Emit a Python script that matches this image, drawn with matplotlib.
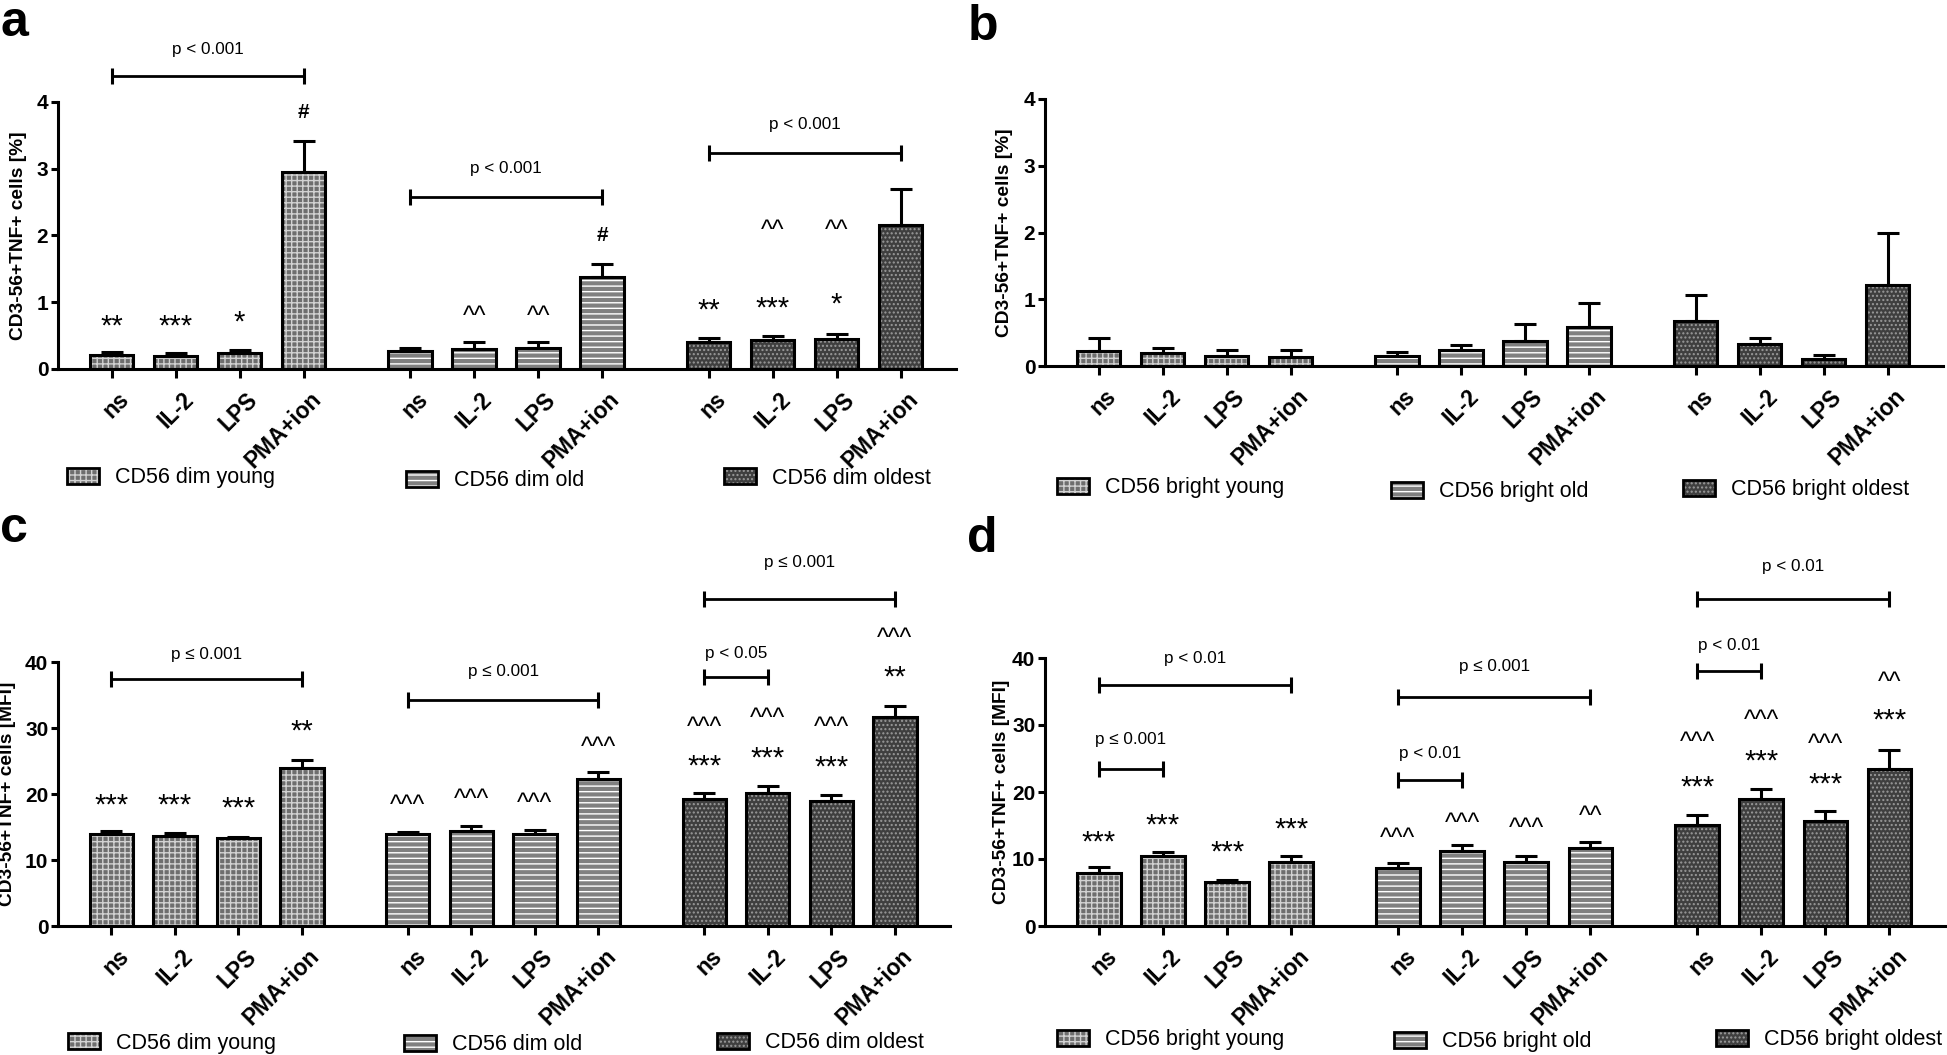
import numpy as np
import matplotlib.pyplot as plt
from matplotlib.patches import Patch
from matplotlib.legend_handler import HandlerTuple
import matplotlib.transforms as mtransforms

plt.rcParams['font.family'] = ['Liberation Sans', 'DejaVu Sans']
plt.rcParams['hatch.linewidth'] = 1.0

stims = ['ns', 'IL-2', 'LPS', 'PMA+ion']

# panel a: CD56 dim, TNF+ [%]
a_young = [0.21, 0.20, 0.245, 2.95]
a_young_sem = [0.04, 0.035, 0.035, 0.47]
a_old = [0.27, 0.30, 0.31, 1.38]
a_old_sem = [0.05, 0.10, 0.09, 0.20]
a_oldest = [0.40, 0.44, 0.45, 2.16]
a_oldest_sem = [0.06, 0.05, 0.07, 0.53]

# panel b: CD56 bright, TNF+ [%]
b_young = [0.23, 0.20, 0.15, 0.13]
b_young_sem = [0.185, 0.07, 0.09, 0.11]
b_old = [0.145, 0.235, 0.38, 0.59]
b_old_sem = [0.07, 0.085, 0.25, 0.36]
b_oldest = [0.67, 0.33, 0.11, 1.21]
b_oldest_sem = [0.39, 0.09, 0.05, 0.79]

# panel c: CD56 dim, TNF+ [MFI]
c_young = [14.0, 13.7, 13.3, 24.0]
c_young_sem = [0.4, 0.4, 0.25, 1.2]
c_old = [13.9, 14.4, 13.9, 22.3]
c_old_sem = [0.4, 0.8, 0.6, 1.0]
c_oldest = [19.3, 20.2, 18.9, 31.7]
c_oldest_sem = [0.9, 1.0, 0.9, 1.7]

# panel d: CD56 bright, TNF+ [MFI]
d_young = [7.86, 10.45, 6.6, 9.55]
d_young_sem = [0.9, 0.55, 0.25, 0.9]
d_old = [8.6, 11.2, 9.55, 11.6]
d_old_sem = [0.75, 0.9, 0.9, 0.9]
d_oldest = [15.1, 19.0, 15.7, 23.5]
d_oldest_sem = [1.5, 1.4, 1.5, 2.8]

# significance marks: (group, bar, text, y)
a_marks = [(0, 0, '**', 0.78), (0, 1, '***', 0.78), (0, 2, '*', 0.84), (0, 3, '#', 3.88),
           (1, 1, '^^', 0.88), (1, 2, '^^', 0.88), (1, 3, '#', 2.03),
           (2, 0, '**', 1.01), (2, 1, '***', 1.05), (2, 2, '*', 1.10),
           (2, 1, '^^', 2.16), (2, 2, '^^', 2.16)]
c_marks = [(0, 0, '***', 19.6), (0, 1, '***', 19.6), (0, 2, '***', 19.2), (0, 3, '**', 30.8),
           (1, 0, '^^^', 19.2), (1, 1, '^^^', 20.0), (1, 2, '^^^', 19.5), (1, 3, '^^^', 28.0),
           (2, 0, '***', 25.6), (2, 1, '***', 26.8), (2, 2, '***', 25.4), (2, 3, '**', 39.0),
           (2, 0, '^^^', 31.0), (2, 1, '^^^', 32.3), (2, 2, '^^^', 31.0), (2, 3, '^^^', 44.4)]
d_marks = [(0, 0, '***', 13.8), (0, 1, '***', 16.4), (0, 2, '***', 12.3), (0, 3, '***', 15.8),
           (1, 0, '^^^', 13.9), (1, 1, '^^^', 16.2), (1, 2, '^^^', 15.4), (1, 3, '^^', 17.2),
           (2, 0, '***', 22.0), (2, 1, '***', 26.0), (2, 2, '***', 22.5), (2, 3, '***', 32.0),
           (2, 0, '^^^', 28.3), (2, 1, '^^^', 31.5), (2, 2, '^^^', 28.0), (2, 3, '^^', 37.2)]

# brackets: (group, first bar, last bar, y, label, label y)
a_brackets = [(0, 0, 3, 4.39, 'p < 0.001', 4.78), (1, 0, 3, 2.58, 'p < 0.001', 3.01),
              (2, 0, 3, 3.24, 'p < 0.001', 3.67)]
c_brackets = [(0, 0, 3, 37.4, 'p ≤ 0.001', 41.2), (1, 0, 3, 34.3, 'p ≤ 0.001', 38.5),
              (2, 0, 1, 37.7, 'p < 0.05', 41.3), (2, 0, 3, 49.5, 'p ≤ 0.001', 55.0)]
d_brackets = [(0, 0, 1, 23.4, 'p ≤ 0.001', 27.9), (0, 0, 3, 35.9, 'p < 0.01', 39.9),
              (1, 0, 1, 21.8, 'p < 0.01', 25.7), (1, 0, 3, 34.2, 'p ≤ 0.001', 38.8),
              (2, 0, 1, 38.1, 'p < 0.01', 41.8), (2, 0, 3, 48.8, 'p < 0.01', 53.6)]

# bar looks for the three age groups
styles = [dict(face='#6e6e6e', hc='#d2d2d2', hatch='+++'),
          dict(face='#808080', hc='white', hatch='---'),
          dict(face='#3f3f3f', hc='#9a9a9a', hatch='....')]

# text look of the marks: size, weight, shift down (in em) so the ink sits on y
mark_fmt = {'*': (21, 'normal', 0.32), '^': (18, 'normal', 0.26), '#': (15, 'bold', 0.1)}

W, H = 1947, 1055
fig = plt.figure(figsize=(W / 100, H / 100), dpi=100)


def px_axes(l, t, r, b):
    return fig.add_axes([l / W, 1 - b / H, (r - l) / W, (b - t) / H])


group_x = [np.arange(4) + g * 14 / 3 for g in range(3)]
bw = 0.68


def draw_panel(ax, groups, ymax, ylab, marks, brackets, labx):
    for g, (mean, sem) in enumerate(groups):
        st = styles[g]
        x = group_x[g]
        ax.bar(x, mean, width=bw, color=st['face'], edgecolor=st['hc'],
               hatch=st['hatch'], linewidth=0, zorder=2)
        ax.bar(x, mean, width=bw, fill=False, edgecolor='black', linewidth=2.2, zorder=3)
        ax.errorbar(x, mean, yerr=[np.zeros(4), sem], fmt='none', ecolor='black',
                    elinewidth=2.2, capsize=8, capthick=2.2, zorder=4)
    for g, i, txt, y in marks:
        fs, fw, sh = mark_fmt[txt[0]]
        ax.annotate(txt, (group_x[g][i], y), xytext=(0, -sh * fs), textcoords='offset points',
                    ha='center', va='center', fontsize=fs, fontweight=fw,
                    annotation_clip=False)
    for g, i0, i1, y, lab, ly in brackets:
        x0, x1 = group_x[g][i0], group_x[g][i1]
        ax.plot([x0, x1], [y, y], color='black', lw=2.0, marker='|', ms=12,
                mew=2.2, clip_on=False, solid_capstyle='butt')
        ax.text((x0 + x1) / 2, ly, lab, ha='center', va='center', fontsize=12.3,
                clip_on=False)
    ax.set_xlim(-0.84, 13.2)
    ax.set_ylim(0, ymax)
    ax.set_yticks(np.linspace(0, ymax, 5))
    for s in ['top', 'right']:
        ax.spines[s].set_visible(False)
    for s in ['left', 'bottom']:
        ax.spines[s].set_linewidth(2.2)
    allx = np.concatenate(group_x)
    ax.set_xticks(allx, stims * 3)
    ax.tick_params(axis='x', length=6.5, width=2.2, pad=7)
    ax.tick_params(axis='y', length=5, width=2.2, pad=2, labelsize=15)
    for t in ax.get_yticklabels():
        t.set_fontweight('bold')
    off = mtransforms.ScaledTranslation(6 / 100, 0, fig.dpi_scale_trans)
    for t in ax.get_xticklabels():
        t.set_rotation(45)
        t.set_ha('right')
        t.set_va('top')
        t.set_rotation_mode('anchor')
        t.set_fontweight('bold')
        t.set_fontsize(16.3)
        t.set_transform(t.get_transform() + off)
    ax.set_ylabel(ylab, fontsize=13.8, fontweight='bold')
    ax.yaxis.set_label_coords(labx, 0.5)


def add_legends(names, xs, ys):
    for g, (name, x, y) in enumerate(zip(names, xs, ys)):
        st = styles[g]
        h = (Patch(facecolor=st['face'], edgecolor=st['hc'], hatch=st['hatch'], linewidth=0),
             Patch(fill=False, edgecolor='black', linewidth=2.0))
        fig.legend(handles=[h], labels=[name], loc='center left',
                   bbox_to_anchor=(x / W, 1 - y / H), frameon=False, borderpad=0,
                   borderaxespad=0, handlelength=1.5, handleheight=0.8,
                   handletextpad=0.75, fontsize=15.5,
                   handler_map={tuple: HandlerTuple(ndivide=1)})


ax_a = px_axes(58, 102, 956, 369)
ax_b = px_axes(1045, 99, 1943, 366)
ax_c = px_axes(58, 662, 950, 926)
ax_d = px_axes(1045, 658, 1945, 926)

draw_panel(ax_a, [(a_young, a_young_sem), (a_old, a_old_sem), (a_oldest, a_oldest_sem)],
           4, 'CD3-56+TNF+ cells [%]', a_marks, a_brackets, -0.0345)
draw_panel(ax_b, [(b_young, b_young_sem), (b_old, b_old_sem), (b_oldest, b_oldest_sem)],
           4, 'CD3-56+TNF+ cells [%]', [], [], -0.0356)
draw_panel(ax_c, [(c_young, c_young_sem), (c_old, c_old_sem), (c_oldest, c_oldest_sem)],
           40, 'CD3-56+TNF+ cells [MFI]', c_marks, c_brackets, -0.047)
draw_panel(ax_d, [(d_young, d_young_sem), (d_old, d_old_sem), (d_oldest, d_oldest_sem)],
           40, 'CD3-56+TNF+ cells [MFI]', d_marks, d_brackets, -0.039)

add_legends(['CD56 dim young', 'CD56 dim old', 'CD56 dim oldest'], [67, 406, 724], [478, 481, 478])
add_legends(['CD56 bright young', 'CD56 bright old', 'CD56 bright oldest'], [1057, 1391, 1683], [488, 492, 490])
add_legends(['CD56 dim young', 'CD56 dim old', 'CD56 dim oldest'], [68, 404, 717], [1043, 1045, 1043])
add_legends(['CD56 bright young', 'CD56 bright old', 'CD56 bright oldest'], [1057, 1394, 1716], [1040, 1042, 1040])

for lab, x, y in [('a', 0, 36), ('b', 968, 40), ('c', 0, 542), ('d', 967, 552)]:
    fig.text(x / W, 1 - y / H, lab, fontsize=36, fontweight='bold', ha='left', va='baseline')

fig.savefig('out.png', dpi=100, facecolor='white')
